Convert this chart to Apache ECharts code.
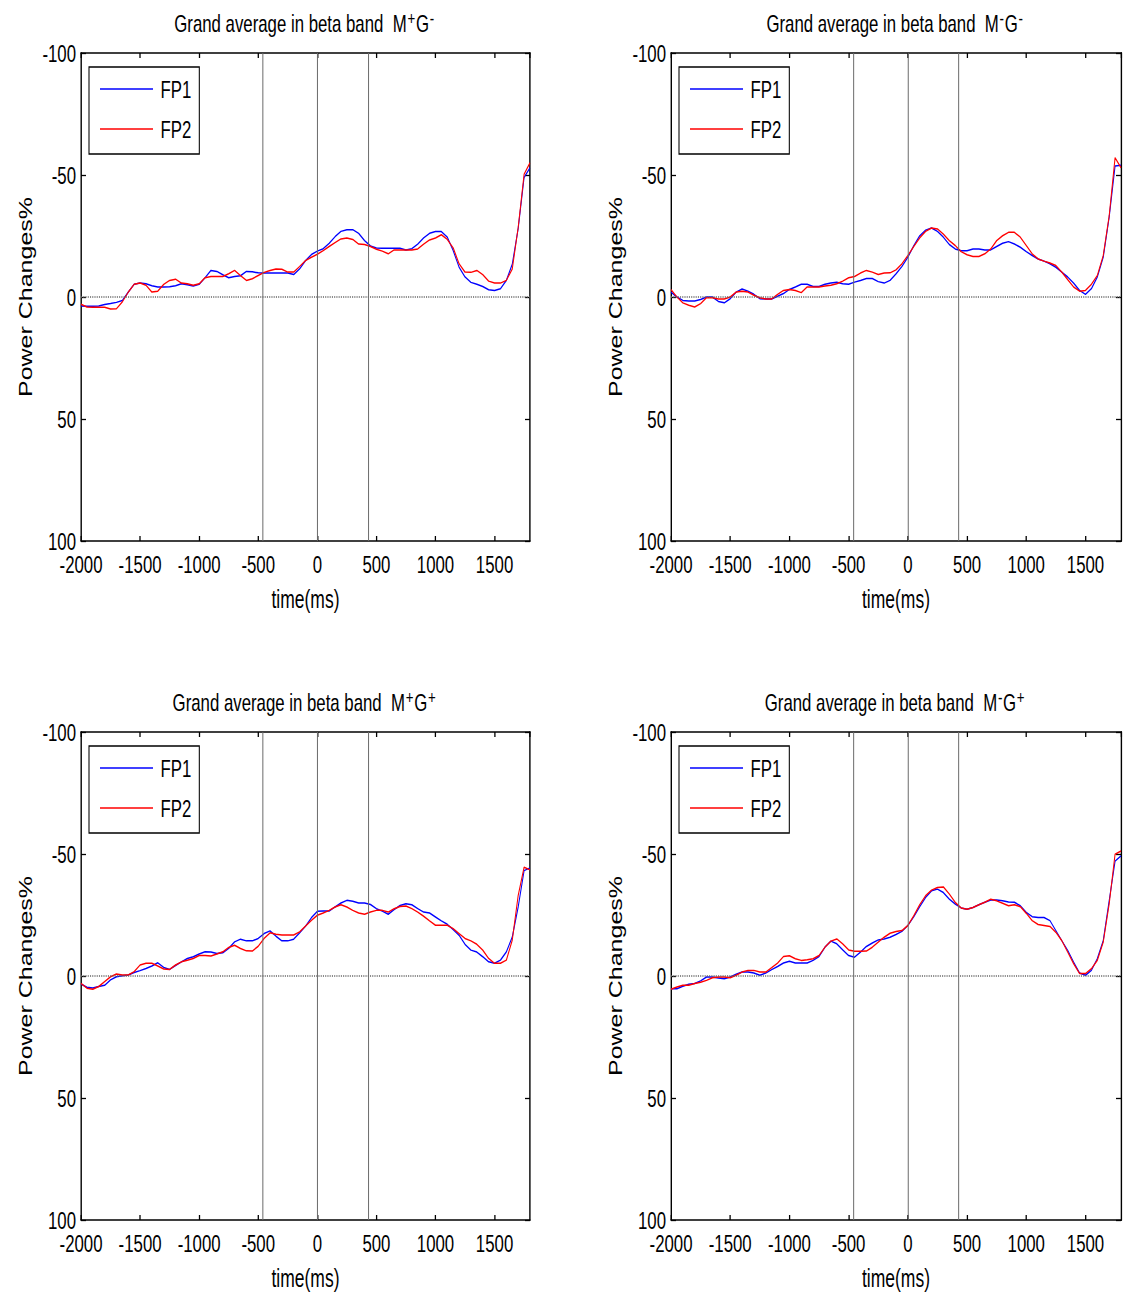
<!DOCTYPE html>
<html>
<head>
<meta charset="utf-8">
<script src="https://cdn.jsdelivr.net/npm/echarts@6/dist/echarts.min.js"></script>
<style>
  html, body { margin: 0; padding: 0; background: #fff; overflow: hidden; }
  /* the original figure has horizontally squeezed lettering: draw wide, squeeze the whole page */
  #main { width: 1620px; height: 1296px; transform: scaleX(0.7); transform-origin: 0 0; }
</style>
</head>
<body>
<div id="main"></div>
<script>
var SQUEEZE = 0.7;

// sample times (ms), 50 ms apart
var times = [-2000, -1950, -1900, -1850, -1800, -1750, -1700, -1650, -1600, -1550,
  -1500, -1450, -1400, -1350, -1300, -1250, -1200, -1150, -1100, -1050,
  -1000, -950, -900, -850, -800, -750, -700, -650, -600, -550,
  -500, -450, -400, -350, -300, -250, -200, -150, -100, -50,
  0, 50, 100, 150, 200, 250, 300, 350, 400, 450,
  500, 550, 600, 650, 700, 750, 800, 850, 900, 950,
  1000, 1050, 1100, 1150, 1200, 1250, 1300, 1350, 1400, 1450,
  1500, 1550, 1600, 1650, 1700, 1750, 1800];

var xTicks = [-2000, -1500, -1000, -500, 0, 500, 1000, 1500];
var yTicks = [-100, -50, 0, 50, 100];
var eventLines = [-460, 0, 430];

// M+G-
var mpgmFP1 = [3.7, 3.8, 3.8, 3.7, 3.1, 2.7, 2.2, 1.4, -2.0, -5.2,
  -5.7, -5.4, -4.6, -4.1, -4.1, -4.2, -4.6, -5.4, -5.0, -4.5,
  -5.2, -7.9, -10.9, -10.5, -9.1, -7.9, -8.4, -8.7, -10.5, -10.3,
  -9.9, -9.8, -9.8, -9.8, -9.8, -9.8, -9.2, -11.5, -14.9, -17.4,
  -18.8, -19.8, -22.0, -24.7, -26.9, -27.6, -27.6, -26.1, -23.1, -20.9,
  -20.1, -20.0, -20.0, -20.0, -20.0, -19.3, -19.8, -21.7, -24.2, -26.1,
  -26.8, -26.8, -24.5, -19.0, -12.2, -8.2, -6.0, -5.2, -4.3, -3.0,
  -2.7, -3.4, -6.8, -13.5, -28.0, -49.0, -53.0];
var mpgmFP2 = [3.0, 4.1, 4.2, 4.2, 4.2, 4.9, 4.8, 2.0, -2.0, -5.2,
  -5.7, -4.8, -2.0, -2.4, -5.2, -6.8, -7.3, -5.7, -5.4, -4.8,
  -5.4, -7.9, -8.4, -8.4, -8.4, -9.5, -10.9, -8.8, -6.8, -7.5,
  -8.8, -10.1, -10.9, -11.5, -11.4, -10.2, -10.2, -12.5, -14.9, -16.3,
  -17.5, -19.0, -20.7, -22.3, -23.8, -24.2, -23.6, -21.7, -21.5, -20.7,
  -19.6, -18.8, -17.7, -19.3, -19.3, -19.3, -19.3, -19.7, -21.7, -23.4,
  -24.2, -25.5, -23.6, -20.1, -13.6, -10.2, -10.1, -10.9, -9.2, -6.5,
  -5.7, -5.7, -6.8, -11.5, -28.5, -50.3, -55.0];

// M-G-
var mmgmFP1 = [-2.0, 0, 1.4, 1.6, 1.6, 1.0, 0, 0, 1.8, 2.4,
  0.7, -2.0, -3.3, -2.4, -1.1, 0.7, 0.8, 0.8, -0.3, -1.4,
  -3.1, -4.1, -5.2, -5.2, -4.3, -4.3, -5.2, -5.7, -6.0, -5.4,
  -5.2, -6.1, -6.8, -7.6, -7.6, -6.3, -5.7, -6.8, -9.5, -12.5,
  -16.3, -21.0, -25.1, -27.4, -28.3, -26.9, -24.5, -21.5, -19.7, -19.0,
  -19.0, -19.7, -19.7, -19.3, -19.3, -20.7, -22.0, -22.7, -21.7, -20.4,
  -18.6, -17.0, -15.6, -14.7, -13.6, -12.2, -10.2, -8.2, -5.7, -2.7,
  -1.1, -3.4, -8.2, -16.3, -32.6, -53.7, -54.0];
var mmgmFP2 = [-3.0, 0, 2.4, 3.4, 4.1, 2.7, 0.3, 0.3, 0.8, 0.8,
  0, -2.0, -2.4, -2.0, -0.7, 0.3, 0.8, 0.8, -1.1, -2.7,
  -3.1, -2.7, -1.8, -4.1, -4.1, -4.1, -4.5, -4.8, -5.4, -6.5,
  -7.9, -8.4, -9.8, -10.9, -10.2, -9.2, -9.8, -9.9, -11.1, -13.6,
  -17.0, -20.7, -24.2, -26.9, -28.3, -27.9, -25.8, -23.1, -21.1, -18.6,
  -17.3, -16.6, -16.6, -17.7, -19.7, -23.1, -25.1, -26.5, -26.5, -24.5,
  -21.1, -17.7, -15.6, -14.7, -13.9, -12.9, -10.2, -7.1, -4.1, -2.4,
  -2.7, -5.2, -8.8, -17.0, -33.2, -57.1, -53.0];

// M+G+
var mpgpFP1 = [3.3, 4.6, 4.9, 4.3, 3.8, 1.6, 0.3, -0.1, -0.4, -1.4,
  -2.2, -3.1, -4.1, -5.4, -3.5, -2.7, -4.3, -5.8, -7.2, -7.9,
  -9.0, -9.9, -9.8, -9.2, -9.5, -11.3, -14.0, -15.1, -14.4, -14.4,
  -15.4, -17.4, -18.5, -16.3, -14.4, -14.4, -15.1, -17.7, -20.4, -23.9,
  -26.5, -26.6, -26.6, -28.3, -29.9, -31.0, -30.6, -29.9, -29.9, -29.3,
  -27.6, -26.6, -25.3, -27.2, -28.9, -29.6, -29.2, -27.6, -26.2, -25.8,
  -24.2, -22.6, -21.2, -19.0, -16.7, -13.0, -10.6, -9.8, -7.9, -5.8,
  -5.2, -6.5, -9.9, -16.0, -28.3, -43.2, -44.3];
var mpgpFP2 = [3.0, 5.0, 5.4, 4.3, 2.3, 0.3, -0.8, -0.4, -0.4, -1.8,
  -4.5, -5.2, -5.2, -4.1, -2.9, -2.7, -4.5, -5.8, -6.5, -7.2,
  -8.4, -8.4, -8.2, -9.0, -9.9, -11.7, -12.6, -11.3, -10.3, -10.2,
  -12.2, -15.4, -17.7, -17.1, -16.8, -16.8, -16.8, -18.1, -20.4, -22.8,
  -24.9, -25.8, -26.9, -28.3, -29.2, -28.3, -26.9, -25.8, -25.3, -26.2,
  -26.9, -26.9, -26.2, -27.6, -28.5, -28.7, -27.6, -26.2, -24.5, -22.6,
  -20.8, -20.8, -20.8, -19.4, -17.4, -15.4, -14.4, -13.0, -10.6, -7.2,
  -5.2, -5.2, -6.5, -14.7, -33.0, -44.6, -43.5];

// M-G+
var mmgpFP1 = [5.2, 5.2, 4.2, 3.4, 3.1, 2.0, 0.4, 0.4, 0.8, 1.1,
  0.4, -0.7, -1.6, -1.6, -1.2, -0.3, -1.2, -2.6, -3.9, -5.3,
  -6.0, -5.3, -5.3, -5.3, -6.4, -8.0, -11.8, -14.3, -13.2, -10.7,
  -8.4, -7.7, -9.8, -12.1, -13.5, -14.8, -15.2, -15.9, -17.0, -18.3,
  -20.7, -24.3, -28.4, -32.2, -34.9, -35.6, -34.2, -31.5, -29.5, -27.9,
  -27.4, -28.1, -29.2, -30.2, -31.1, -31.1, -30.8, -30.3, -30.2, -28.8,
  -26.1, -24.3, -24.0, -24.0, -22.7, -18.6, -14.5, -10.5, -5.7, -1.2,
  -0.3, -2.3, -7.1, -14.5, -30.8, -47.1, -49.2];
var mmgpFP2 = [5.4, 4.5, 3.8, 3.8, 3.1, 2.6, 1.8, 0.7, 0.4, 0.4,
  0.7, -0.3, -1.6, -2.3, -2.3, -1.6, -1.6, -3.4, -5.3, -8.0,
  -8.3, -7.1, -6.4, -6.7, -7.1, -8.4, -11.8, -14.3, -15.2, -13.2,
  -10.7, -10.1, -10.1, -10.2, -11.8, -13.9, -15.9, -17.5, -18.2, -18.6,
  -20.7, -24.7, -29.2, -32.9, -35.2, -36.3, -36.5, -33.6, -30.2, -27.9,
  -27.4, -28.1, -29.2, -30.2, -31.5, -30.8, -29.8, -28.8, -29.2, -28.4,
  -25.7, -22.7, -21.1, -20.7, -20.3, -17.9, -14.5, -9.8, -5.0, -1.0,
  -1.0, -3.0, -6.4, -13.9, -29.5, -49.9, -51.2];

var panels = [
  { m: '+', g: '-', fp1: mpgmFP1, fp2: mpgmFP2 },
  { m: '-', g: '-', fp1: mmgmFP1, fp2: mmgmFP2 },
  { m: '+', g: '+', fp1: mpgpFP1, fp2: mpgpFP2 },
  { m: '-', g: '+', fp1: mmgpFP1, fp2: mmgpFP2 }
];

var font = "'Liberation Sans', Arial, sans-serif";

// plot boxes in screen pixels (before the squeeze is undone)
var boxes = [
  { left: 81, top: 53, width: 449, height: 488 },
  { left: 671, top: 53, width: 450, height: 488 },
  { left: 81, top: 732, width: 449, height: 488 },
  { left: 671, top: 732, width: 450, height: 488 }
];

function wx(v) { return v / SQUEEZE; }   // screen x -> layout x

function pairs(vals) {
  return times.map(function (t, k) { return [t, vals[k]]; });
}

var grids = [], xAxes = [], yAxes = [], series = [], titles = [], legends = [];

boxes.forEach(function (b, i) {
  var p = panels[i];
  grids.push({ left: wx(b.left), top: b.top, width: wx(b.width), height: b.height });

  titles.push({
    text: '{a|Grand average in beta band  M}{s|' + p.m + '}{a|G}{s|' + p.g + '}',
    left: wx(b.left + b.width / 2 - 1),
    top: b.top - 44,
    padding: 0,
    textAlign: 'center',
    textStyle: {
      fontWeight: 'normal',
      rich: {
        a: { fontFamily: font, fontSize: 24, fontWeight: 'normal', color: '#000', lineHeight: 28 },
        s: { fontFamily: font, fontSize: 19, fontWeight: 'normal', color: '#000', verticalAlign: 'top', lineHeight: 12, padding: [0, 1, 0, 1] }
      }
    }
  });

  legends.push({
    orient: 'vertical',
    left: wx(b.left + 8),
    top: b.top + 14,
    itemWidth: wx(53),
    itemHeight: 1.5,
    itemGap: 16,
    icon: 'rect',
    padding: [10, wx(8), 13, wx(11)],
    borderColor: '#000',
    borderWidth: 1.5,
    textStyle: { fontFamily: font, fontSize: 24, color: '#000', padding: [0, 0, 0, wx(4)] },
    data: ['FP1', 'FP2']
  });

  var xLine = { onZero: false, lineStyle: { color: '#000', width: 1.6 } };
  var yLine = { onZero: false, lineStyle: { color: '#000', width: wx(1.4) } };
  var xTick = { inside: true, length: 5, lineStyle: { color: '#000', width: wx(1.3) } };
  var yTick = { inside: true, length: wx(5), lineStyle: { color: '#000', width: 1.3 } };

  xAxes.push({
    gridIndex: i, type: 'value', position: 'bottom',
    min: -2000, max: 1800, interval: 500,
    axisLine: xLine, axisTick: xTick, splitLine: { show: false },
    axisLabel: {
      color: '#000', fontFamily: font, fontSize: 24, margin: 11,
      showMaxLabel: false,
      formatter: function (v) { return xTicks.indexOf(v) >= 0 ? String(v) : ''; }
    },
    name: 'time(ms)', nameLocation: 'middle', nameGap: 46,
    nameTextStyle: { color: '#000', fontFamily: font, fontSize: 25 }
  });
  xAxes.push({
    gridIndex: i, type: 'value', position: 'top',
    min: -2000, max: 1800, interval: 500,
    axisLine: xLine, axisTick: xTick, splitLine: { show: false },
    axisLabel: { show: false }
  });

  yAxes.push({
    gridIndex: i, type: 'value', position: 'left', inverse: true,
    min: -100, max: 100, interval: 50,
    axisLine: yLine, axisTick: yTick, splitLine: { show: false },
    axisLabel: {
      color: '#000', fontFamily: font, fontSize: 24, margin: wx(5),
      formatter: function (v) { return yTicks.indexOf(v) >= 0 ? String(v) : ''; }
    },
    name: 'Power Changes%', nameLocation: 'middle', nameGap: wx(46),
    nameTextStyle: { color: '#000', fontFamily: font, fontSize: 25 }
  });
  yAxes.push({
    gridIndex: i, type: 'value', position: 'right', inverse: true,
    min: -100, max: 100, interval: 50,
    axisLine: yLine, axisTick: yTick, splitLine: { show: false },
    axisLabel: { show: false }
  });

  series.push({
    name: 'FP1', type: 'line', xAxisIndex: 2 * i, yAxisIndex: 2 * i,
    data: pairs(p.fp1), showSymbol: false, animation: false,
    itemStyle: { color: '#0000ff' },
    lineStyle: { color: '#0000ff', width: 1.5 },
    markLine: {
      silent: true, symbol: 'none', animation: false,
      label: { show: false },
      data: [
        { yAxis: 0, lineStyle: { color: '#666', type: 'dotted', width: 1.6 } }
      ].concat(eventLines.map(function (t) {
        return { xAxis: t, lineStyle: { color: '#6a6a6a', type: 'solid', width: wx(1) } };
      }))
    }
  });
  series.push({
    name: 'FP2', type: 'line', xAxisIndex: 2 * i, yAxisIndex: 2 * i,
    data: pairs(p.fp2), showSymbol: false, animation: false,
    itemStyle: { color: '#ff0000' },
    lineStyle: { color: '#ff0000', width: 1.5 }
  });
});

var chart = echarts.init(document.getElementById('main'), null, { renderer: 'svg' });
chart.setOption({
  backgroundColor: '#fff',
  animation: false,
  title: titles,
  legend: legends,
  grid: grids,
  xAxis: xAxes,
  yAxis: yAxes,
  series: series
});
</script>
</body>
</html>
